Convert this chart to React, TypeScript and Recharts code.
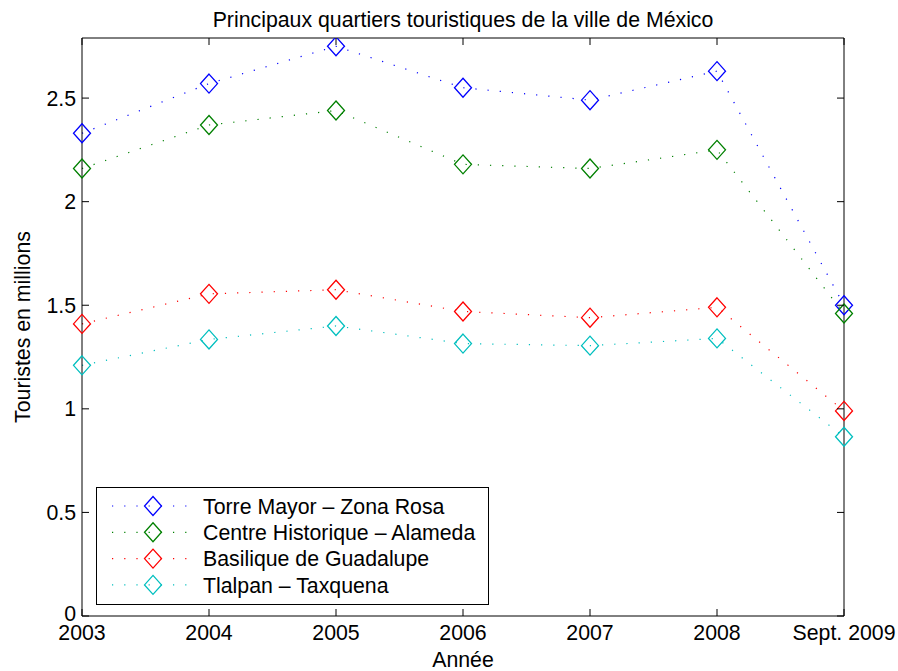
import React from 'react';
import { LineChart, Line, XAxis, YAxis } from 'recharts';

const years = ['2003', '2004', '2005', '2006', '2007', '2008', 'Sept. 2009'];
const torreMayor = [2.33, 2.57, 2.75, 2.55, 2.49, 2.63, 1.5];
const centreHistorique = [2.16, 2.37, 2.44, 2.18, 2.16, 2.25, 1.46];
const basilique = [1.41, 1.555, 1.575, 1.47, 1.44, 1.49, 0.99];
const tlalpan = [1.21, 1.335, 1.4, 1.315, 1.305, 1.34, 0.865];
const yTicks = [0, 0.5, 1, 1.5, 2, 2.5];

const seriesList = [
  { key: 'torre', name: 'Torre Mayor – Zona Rosa', values: torreMayor, color: '#0000ff', side: 'a' },
  { key: 'centre', name: 'Centre Historique – Alameda', values: centreHistorique, color: '#008000', side: 'a' },
  { key: 'basilique', name: 'Basilique de Guadalupe', values: basilique, color: '#ff0000', side: 'b' },
  { key: 'tlalpan', name: 'Tlalpan – Taxquena', values: tlalpan, color: '#00bfbf', side: 'b' },
];

const data = years.map((year, i) => {
  const row: any = { year };
  seriesList.forEach((s) => {
    row[s.key] = s.values[i];
  });
  return row;
});

const FONT = '"Liberation Sans", Arial, Helvetica, sans-serif';
const FS = 21.3;
const DOMAIN: [number, number] = [0, 2.79];

const diamondPath = (cx: number, cy: number) =>
  `M${cx},${cy - 9.5} L${cx + 8.5},${cy} L${cx},${cy + 9.5} L${cx - 8.5},${cy} Z`;

const makeDot = (color: string) => (p: any) => {
  if (p.cx == null || p.cy == null) return <g key={`d-${p.index}`} />;
  return (
    <path
      key={`d-${color}-${p.index}`}
      d={diamondPath(p.cx, p.cy)}
      fill="none"
      stroke={color}
      strokeWidth={1.3}
    />
  );
};

const BottomTick = (props: any) => {
  const { x, y, payload } = props;
  return (
    <g>
      <line x1={x} y1={y} x2={x} y2={y - 7} stroke="#000" strokeWidth={1} />
      <text x={x} y={y + 24} textAnchor="middle" fontSize={FS} fontFamily={FONT} fill="#000">
        {payload.value}
      </text>
    </g>
  );
};

const TopTick = (props: any) => {
  const { x, y } = props;
  return <line x1={x} y1={y} x2={x} y2={y + 7} stroke="#000" strokeWidth={1} />;
};

const LeftTick = (props: any) => {
  const { x, y, payload } = props;
  const shift = payload.value === 0 ? -2.5 : 0;
  return (
    <g>
      <line x1={x} y1={y} x2={x + 7} y2={y} stroke="#000" strokeWidth={1} />
      <text x={x - 6} y={y + shift} dy="0.36em" textAnchor="end" fontSize={FS} fontFamily={FONT} fill="#000">
        {payload.value}
      </text>
    </g>
  );
};

const RightTick = (props: any) => {
  const { x, y } = props;
  return <line x1={x} y1={y} x2={x - 7} y2={y} stroke="#000" strokeWidth={1} />;
};

const Legend = () => {
  const rowH = 26.3;
  return (
    <div
      style={{
        position: 'absolute',
        left: 96,
        top: 487,
        width: 393,
        height: 118,
      }}
    >
      <svg width={393} height={118} style={{ display: 'block' }}>
        <rect x={0.5} y={0.5} width={392} height={117} fill="#fff" stroke="#000" strokeWidth={1} />
        {seriesList.map((s, i) => {
          const cy = 19 + i * rowH;
          return (
            <g key={s.key}>
              <line
                x1={16}
                y1={cy}
                x2={92}
                y2={cy}
                stroke={s.color}
                strokeWidth={1.2}
                strokeDasharray="1.2 11"
              />
              <path d={diamondPath(57, cy)} fill="none" stroke={s.color} strokeWidth={1.3} />
              <text x={107} y={cy} dy="0.36em" fontSize={FS} fontFamily={FONT} fill="#000">
                {s.name}
              </text>
            </g>
          );
        })}
      </svg>
    </div>
  );
};

export default function App() {
  return (
    <div style={{ position: 'relative', width: 898, height: 671, background: '#fff', overflow: 'hidden' }}>
      <style>{`html, body { margin: 0; padding: 0; overflow: hidden; }`}</style>
      <LineChart
        width={898}
        height={671}
        data={data}
        margin={{ top: 0, right: 0, bottom: 0, left: 0 }}
      >
        <XAxis
          xAxisId="bottom"
          dataKey="year"
          orientation="bottom"
          height={55}
          tickSize={0}
          tickMargin={0}
          tickLine={false}
          interval={0}
          stroke="#000"
          axisLine={{ stroke: '#000', strokeWidth: 1 }}
          tick={<BottomTick />}
          label={{
            content: (p: any) => {
              const vb = p.viewBox || {};
              return (
                <text
                  x={vb.x + vb.width / 2}
                  y={vb.y + 51}
                  textAnchor="middle"
                  fontSize={FS}
                  fontFamily={FONT}
                  fill="#000"
                >
                  Année
                </text>
              );
            },
          }}
        />
        <XAxis
          xAxisId="top"
          dataKey="year"
          orientation="top"
          height={38}
          tickSize={0}
          tickMargin={0}
          tickLine={false}
          interval={0}
          axisLine={{ stroke: '#000', strokeWidth: 1 }}
          tick={<TopTick />}
          label={{
            content: (p: any) => {
              const vb = p.viewBox || {};
              return (
                <text
                  x={vb.x + vb.width / 2}
                  y={vb.y + vb.height - 11}
                  textAnchor="middle"
                  fontSize={FS}
                  fontFamily={FONT}
                  fill="#000"
                >
                  Principaux quartiers touristiques de la ville de México
                </text>
              );
            },
          }}
        />
        <YAxis
          yAxisId="left"
          orientation="left"
          width={82}
          type="number"
          domain={DOMAIN}
          allowDataOverflow
          ticks={yTicks}
          interval={0}
          tickSize={0}
          tickMargin={0}
          tickLine={false}
          axisLine={{ stroke: '#000', strokeWidth: 1 }}
          tick={<LeftTick />}
          label={{
            content: (p: any) => {
              const vb = p.viewBox || {};
              const cx = vb.x + 22;
              const cy = vb.y + vb.height / 2;
              return (
                <text
                  x={cx}
                  y={cy}
                  textAnchor="middle"
                  dy="0.36em"
                  transform={`rotate(-90 ${cx} ${cy})`}
                  fontSize={FS}
                  fontFamily={FONT}
                  fill="#000"
                >
                  Touristes en millions
                </text>
              );
            },
          }}
        />
        <YAxis
          yAxisId="right"
          orientation="right"
          width={54}
          type="number"
          domain={DOMAIN}
          allowDataOverflow
          ticks={yTicks}
          interval={0}
          tickSize={0}
          tickMargin={0}
          tickLine={false}
          axisLine={{ stroke: '#000', strokeWidth: 1 }}
          tick={<RightTick />}
        />
        {seriesList.map((s) => (
          <Line
            key={s.key}
            dataKey={s.key}
            name={s.name}
            xAxisId={s.side === 'a' ? 'bottom' : 'top'}
            yAxisId={s.side === 'a' ? 'left' : 'right'}
            type="linear"
            stroke={s.color}
            strokeWidth={1.2}
            strokeDasharray="1.2 11"
            dot={makeDot(s.color)}
            activeDot={false}
            isAnimationActive={false}
          />
        ))}
      </LineChart>
      <Legend />
    </div>
  );
}
